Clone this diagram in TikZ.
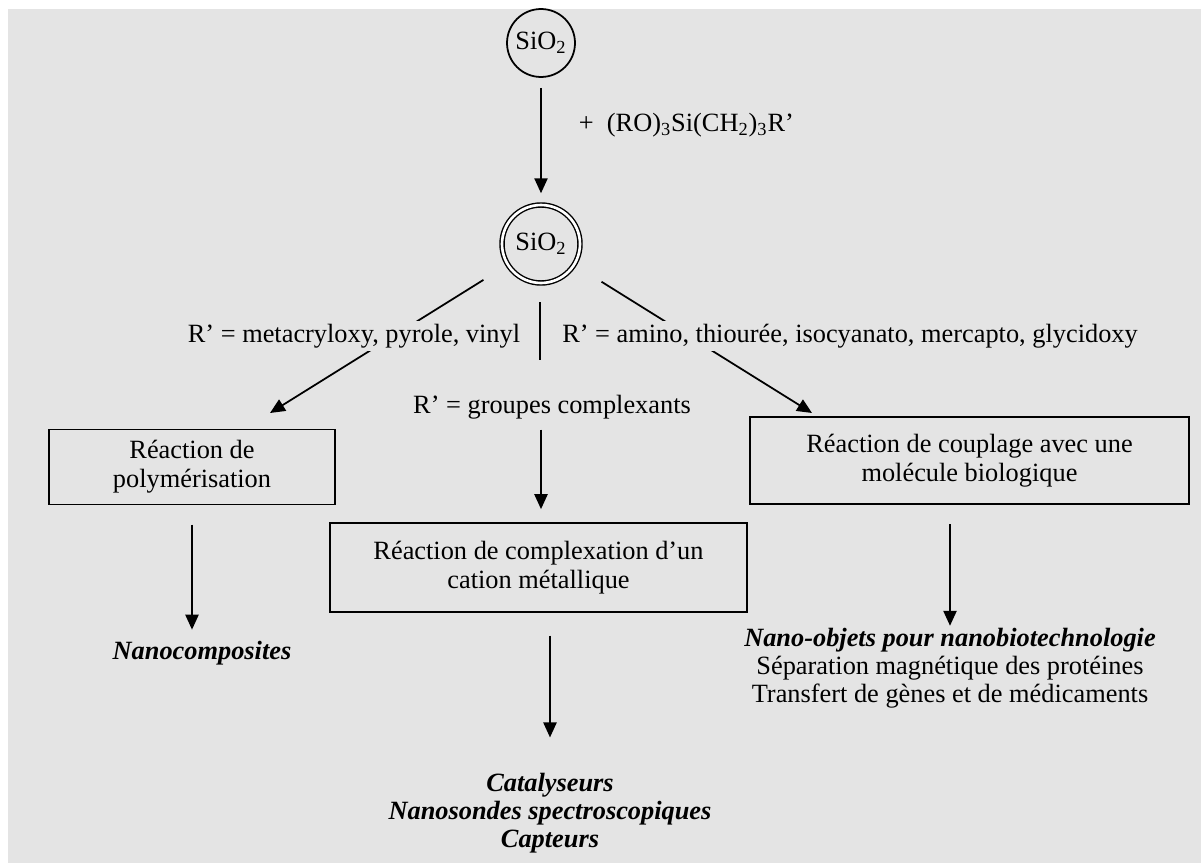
\documentclass[tikz,border=0pt]{standalone}
\usepackage{fontspec}
\setmainfont{Liberation Serif}
\usetikzlibrary{arrows.meta}
\definecolor{paleground}{RGB}{228,228,228}

\begin{document}
\begin{tikzpicture}[x=0.02cm,y=-0.02cm,line width=1pt,
    font=\fontsize{15}{16.5}\selectfont,
    box/.style={draw,align=center,inner sep=0pt},
    lbl/.style={inner sep=0pt,align=center},
    uses/.style={lbl,font=\fontsize{15}{16}\selectfont},
    arr/.style={-{Triangle[length=8.5pt,width=7.5pt]}}]
     \fill[white] (0,0) rectangle (1203,865);
     \fill[paleground] (8,9) rectangle (1201,863);
     \node[draw,circle,minimum size=1.36cm,inner sep=0pt] (sio) at (541,43) {SiO\textsubscript{2}};
     \node[draw,circle,double,double distance=1.5pt,line width=0.8pt,minimum size=1.56cm,inner sep=0pt] (ring) at (541,244) {SiO\textsubscript{2}};
     \node[lbl,anchor=west] (reag) at (578,125) {+\ \ (RO)\textsubscript{3}Si(CH\textsubscript{2})\textsubscript{3}R’};
     \coordinate (tipL) at (270,413);
     \coordinate (tipR) at (812,413);
     \coordinate (sepT) at (540,302);
     \coordinate (sepB) at (540,360);
     \draw[arr,shorten <=5.7pt,shorten >=6.3pt] (sio) -- (ring);
     \draw[arr,shorten <=16pt] (ring) -- (tipL);
     \draw[arr,shorten <=18pt] (ring) -- (tipR);
     \draw (sepT) -- (sepB);
     \node[lbl,fill=paleground,inner ysep=1.5pt] (lblL) at (354,336) {R’ = metacryloxy, pyrole, vinyl};
     \node[lbl,fill=paleground,inner ysep=1.5pt] (lblR) at (850,336) {R’ = amino, thiourée, isocyanato, mercapto, glycidoxy};
     \node[lbl] (lblM) at (552,407) {R’ = groupes complexants};
     \node[box,minimum width=5.72cm,minimum height=1.5cm] (polym) at (192,467) {Réaction de\\polymérisation};
     \node[box,minimum width=8.34cm,minimum height=1.78cm] (complex) at (538.5,567.5) {Réaction de complexation d’un\\cation métallique};
     \node[box,minimum width=8.78cm,minimum height=1.74cm] (coupl) at (969.5,460.5) {Réaction de couplage avec une\\molécule biologique};
     \node[uses,font=\fontsize{15}{16}\selectfont\bfseries\itshape] (nanoC) at (202,653) {Nanocomposites};
     \node[uses] (catal) at (550,813.5) {\textbf{\textit{Catalyseurs}}\\\textbf{\textit{Nanosondes spectroscopiques}}\\\textbf{\textit{Capteurs}}};
     \node[uses] (bio) at (950,668.5) {\textbf{\textit{Nano-objets pour nanobiotechnologie}}\\Séparation magnétique des protéines\\Transfert de gènes et de médicaments};
     \draw[arr,shorten <=5.5pt,shorten >=7.4pt] (lblM.south -| ring) -- (complex.north -| ring);
     \draw[arr,shorten <=11pt,shorten >=6pt] (polym) -- (polym |- nanoC.north);
     \draw[arr,shorten <=13pt,shorten >=20pt] (complex.south -| catal) -- (catal);
     \draw[arr,shorten <=11pt,shorten >=1pt] (coupl.south -| bio) -- (bio);
   \end{tikzpicture}
\end{document}
